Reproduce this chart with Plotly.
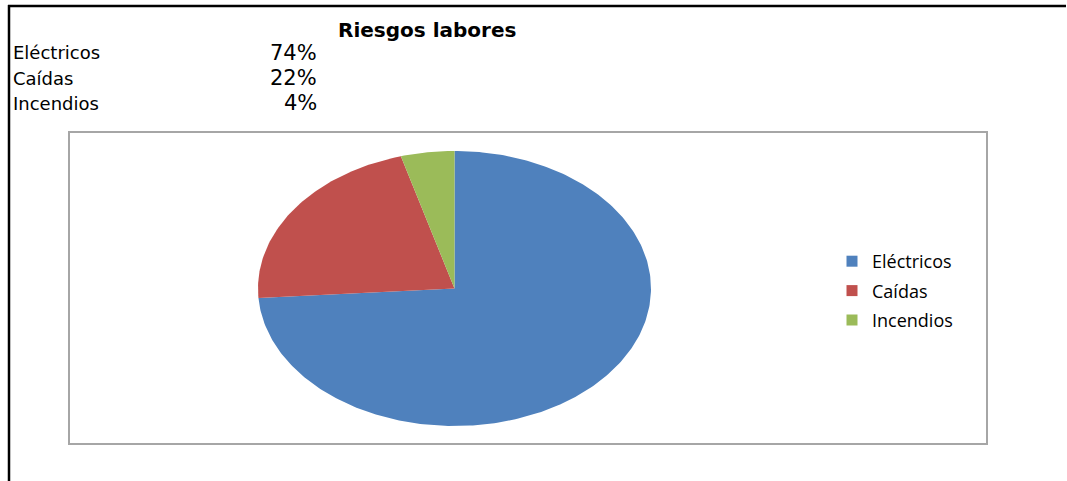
import numpy as np
import plotly.graph_objects as go

# ---- data ----
categories = ["Eléctricos", "Caídas", "Incendios"]
shares = [73.9, 21.7, 4.4]          # pie shares (%)
table_labels = ["74%", "22%", "4%"]  # values printed in the top-left table
colors = ["#4F81BD", "#C0504D", "#9BBB59"]
title_text = "Riesgos labores"

W, H = 1067, 481

# plot-area box (pixels) and pie geometry in axis units (radius 1)
box_l, box_r, box_t, box_b = 70, 986, 133, 443
cx_px, cy_px, rx_px, ry_px = 454.5, 288.5, 196.5, 137.5
xr = [-(cx_px - box_l) / rx_px, (box_r - cx_px) / rx_px]
yr = [-(box_b - cy_px) / ry_px, (cy_px - box_t) / ry_px]

fig = go.Figure()

total = sum(shares)
start = 0.0
for name, val, col in zip(categories, shares, colors):
    a0 = start / total * 2 * np.pi
    a1 = (start + val) / total * 2 * np.pi
    t = np.linspace(a0, a1, max(int(400 * val / total), 8))
    xs = np.concatenate([[0], np.sin(t), [0]])
    ys = np.concatenate([[0], np.cos(t), [0]])
    fig.add_trace(go.Scatter(x=xs, y=ys, mode="lines", fill="toself",
                             fillcolor=col, line=dict(width=0, color=col),
                             hoverinfo="text", text=f"{name}: {val}%",
                             showlegend=False))
    start += val

for name, col in zip(categories, colors):
    fig.add_trace(go.Scatter(x=[None], y=[None], mode="markers", name=name,
                             legendgroup=name,
                             marker=dict(symbol="square", size=11, color=col)))

annotations = [dict(text=f"<b>{title_text}</b>", x=427 / W, y=1 - 30 / H,
                    xref="paper", yref="paper", showarrow=False,
                    xanchor="center", yanchor="middle",
                    font=dict(family="DejaVu Sans", size=20, color="black"))]
row_y = [53, 78, 103]
for lab, pct, ypx in zip(categories, table_labels, row_y):
    annotations.append(dict(text=lab, x=11 / W, y=1 - ypx / H, xref="paper", yref="paper",
                            showarrow=False, xanchor="left", yanchor="middle",
                            font=dict(family="DejaVu Sans", size=18, color="black")))
    annotations.append(dict(text=pct, x=319 / W, y=1 - ypx / H, xref="paper", yref="paper",
                            showarrow=False, xanchor="right", yanchor="middle",
                            font=dict(family="DejaVu Sans", size=21, color="black")))

shapes = [
    dict(type="line", xref="paper", yref="paper", x0=8 / W, x1=1066 / W,
         y0=1 - 6 / H, y1=1 - 6 / H, line=dict(color="black", width=2.5)),
    dict(type="line", xref="paper", yref="paper", x0=9 / W, x1=9 / W,
         y0=1 - 5 / H, y1=0, line=dict(color="black", width=2.5)),
]

fig.update_layout(
    width=W, height=H, autosize=False,
    margin=dict(l=0, r=0, t=0, b=0),
    paper_bgcolor="white", plot_bgcolor="white",
    xaxis=dict(domain=[box_l / W, box_r / W], range=xr, showgrid=False,
               zeroline=False, showticklabels=False, ticks="",
               showline=True, mirror=True, linecolor="#A6A6A6", linewidth=2,
               fixedrange=True),
    yaxis=dict(domain=[1 - box_b / H, 1 - box_t / H], range=yr, showgrid=False,
               zeroline=False, showticklabels=False, ticks="",
               showline=True, mirror=True, linecolor="#A6A6A6", linewidth=2,
               fixedrange=True),
    legend=dict(x=832 / W, y=1 - 243 / H, xanchor="left", yanchor="top",
                font=dict(family="Open Sans", size=18, color="black"),
                bgcolor="rgba(0,0,0,0)", tracegroupgap=3, itemclick=False),
    annotations=annotations,
    shapes=shapes,
    showlegend=True,
)

fig.write_html("out.html", config={"displayModeBar": False},
               post_script="document.body.style.margin='0';document.body.style.padding='0';")
